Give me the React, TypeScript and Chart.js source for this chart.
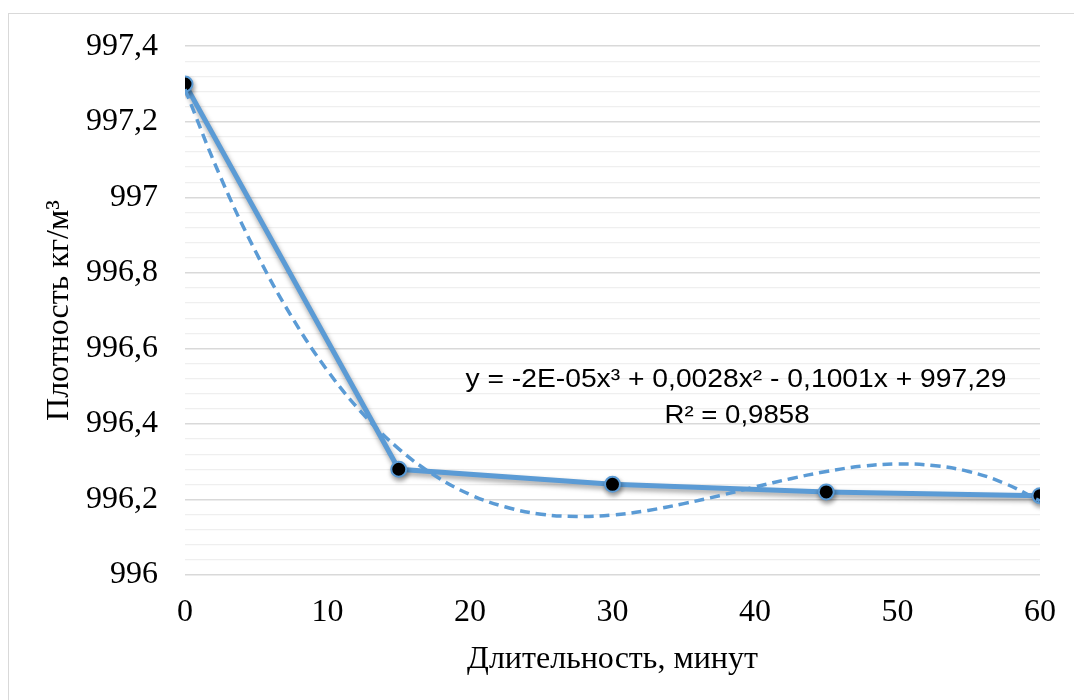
import React, { useEffect, useRef } from "react";
import { Chart, registerables } from "chart.js";

Chart.register(...registerables);

// ---- Data ----
const durationMinutes = [0, 15, 30, 45, 60];
const densityValues = [997.3, 996.28, 996.24, 996.22, 996.21];

// Polynomial (cubic) trend line
const trendMinutes = [0, 2.5, 5, 7.5, 10, 12.5, 15, 17.5, 20, 22.5, 25, 27.5, 30, 32.5, 35, 37.5, 40, 42.5, 45, 47.5, 50, 52.5, 55, 57.5, 60];
const trendDensity = [997.286, 997.053, 996.853, 996.683, 996.541, 996.426, 996.334, 996.264, 996.213, 996.18, 996.161, 996.155, 996.159, 996.171, 996.189, 996.21, 996.233, 996.255, 996.274, 996.288, 996.294, 996.29, 996.274, 996.243, 996.196];

const xTickValues = [0, 10, 20, 30, 40, 50, 60];
const yMajorTickValues = [996, 996.2, 996.4, 996.6, 996.8, 997, 997.2, 997.4];
const yMajorTickLabels = ["996", "996,2", "996,4", "996,6", "996,8", "997", "997,2", "997,4"];
const yGridValues = [
  996, 996.04, 996.08, 996.12, 996.16, 996.2, 996.24, 996.28, 996.32, 996.36,
  996.4, 996.44, 996.48, 996.52, 996.56, 996.6, 996.64, 996.68, 996.72, 996.76,
  996.8, 996.84, 996.88, 996.92, 996.96, 997, 997.04, 997.08, 997.12, 997.16,
  997.2, 997.24, 997.28, 997.32, 997.36, 997.4,
];

const xAxisTitle = "Длительность, минут";
const yAxisTitle = "Плотность кг/м³";
const equationText = "y = -2E-05x³ + 0,0028x² - 0,1001x + 997,29";
const rSquaredText = "R² = 0,9858";

const BLUE = "#5b9bd5";
const SERIF = "'Liberation Serif', 'Times New Roman', serif";
const SANS = "'Liberation Sans', Arial, sans-serif";

function majorIndex(v: number): number {
  return yMajorTickValues.findIndex((m) => Math.abs(m - v) < 1e-6);
}

const shadowPlugin = {
  id: "lineShadow",
  beforeDatasetDraw(chart: any, args: any) {
    if (args.index !== 1) return;
    const ctx = chart.ctx;
    ctx.save();
    ctx.shadowColor = "rgba(0,0,0,0.38)";
    ctx.shadowBlur = 5;
    ctx.shadowOffsetX = 1;
    ctx.shadowOffsetY = 3;
  },
  afterDatasetDraw(chart: any, args: any) {
    if (args.index !== 1) return;
    chart.ctx.restore();
  },
};

const textPlugin = {
  id: "extraText",
  afterDraw(chart: any) {
    const ctx = chart.ctx;
    const area = chart.chartArea;
    ctx.save();
    ctx.fillStyle = "#000";
    ctx.textAlign = "center";
    ctx.textBaseline = "middle";

    // trendline equation
    ctx.font = `25px ${SANS}`;
    const drawFit = (text: string, cx: number, cy: number, width: number) => {
      const w = ctx.measureText(text).width;
      ctx.save();
      ctx.translate(cx, cy);
      ctx.scale(width / w, 1);
      ctx.fillText(text, 0, 0);
      ctx.restore();
    };
    drawFit(equationText, 736, 380, 541);
    drawFit(rSquaredText, 737, 416, 145);

    // axis titles
    ctx.font = `32px ${SERIF}`;
    ctx.fillText(xAxisTitle, (area.left + area.right) / 2, 660);
    ctx.save();
    ctx.translate(60, (area.top + area.bottom) / 2);
    ctx.rotate(-Math.PI / 2);
    ctx.fillText(yAxisTitle, 0, 0);
    ctx.restore();
    ctx.restore();
  },
};

export default function App() {
  const canvasRef = useRef<HTMLCanvasElement | null>(null);

  useEffect(() => {
    if (!canvasRef.current) return;
    const chart = new Chart(canvasRef.current, {
      type: "line",
      data: {
        datasets: [
          {
            label: "Тренд",
            data: trendMinutes.map((x, i) => ({ x, y: trendDensity[i] })),
            borderColor: BLUE,
            borderWidth: 3.5,
            borderDash: [10, 6],
            pointRadius: 0,
            tension: 0.4,
            fill: false,
          },
          {
            label: "Плотность",
            data: durationMinutes.map((x, i) => ({ x, y: densityValues[i] })),
            borderColor: BLUE,
            borderWidth: 5,
            pointRadius: 7.5,
            pointBackgroundColor: "#000",
            pointBorderColor: BLUE,
            pointBorderWidth: 2,
            tension: 0,
            fill: false,
          },
        ],
      },
      options: {
        animation: false,
        responsive: false,
        layout: { padding: { top: 44, right: 31, bottom: 0, left: 0 } },
        plugins: {
          legend: { display: false },
          tooltip: { enabled: false },
        },
        scales: {
          x: {
            type: "linear",
            min: 0,
            max: 60,
            afterBuildTicks: (scale: any) => {
              scale.ticks = xTickValues.map((v) => ({ value: v }));
            },
            afterFit: (scale: any) => {
              scale.height = 125;
            },
            grid: { display: false, drawTicks: false },
            border: { display: false },
            ticks: {
              color: "#000",
              font: { family: SERIF, size: 32 },
              padding: 18,
              maxRotation: 0,
              autoSkip: false,
            },
          },
          y: {
            type: "linear",
            min: 996,
            max: 997.4,
            afterBuildTicks: (scale: any) => {
              scale.ticks = yGridValues.map((v) => ({ value: v }));
            },
            afterFit: (scale: any) => {
              scale.width = 185;
            },
            grid: {
              drawTicks: false,
              color: (ctx: any) =>
                ctx.tick && majorIndex(ctx.tick.value) >= 0 ? "#d9d9d9" : "#efefef",
              lineWidth: (ctx: any) =>
                ctx.tick && majorIndex(ctx.tick.value) >= 0 ? 1.5 : 1.2,
            },
            border: { display: false },
            ticks: {
              color: "#000",
              font: { family: SERIF, size: 32 },
              padding: 27,
              autoSkip: false,
              callback: (value: any) => {
                const i = majorIndex(Number(value));
                return i >= 0 ? yMajorTickLabels[i] : "";
              },
            },
          },
        },
      },
      plugins: [shadowPlugin, textPlugin],
    });
    return () => chart.destroy();
  }, []);

  return (
    <div
      style={{
        position: "fixed",
        left: 0,
        top: 0,
        width: 1074,
        height: 700,
        overflow: "hidden",
        background: "#fff",
      }}
    >
      <div
        style={{
          position: "absolute",
          left: 8,
          top: 13,
          width: 1100,
          height: 720,
          border: "1.5px solid #d9d9d9",
          boxSizing: "border-box",
        }}
      />
      <canvas
        ref={canvasRef}
        width={1074}
        height={700}
        style={{ position: "absolute", left: 0, top: 0, width: 1074, height: 700 }}
      />
    </div>
  );
}
